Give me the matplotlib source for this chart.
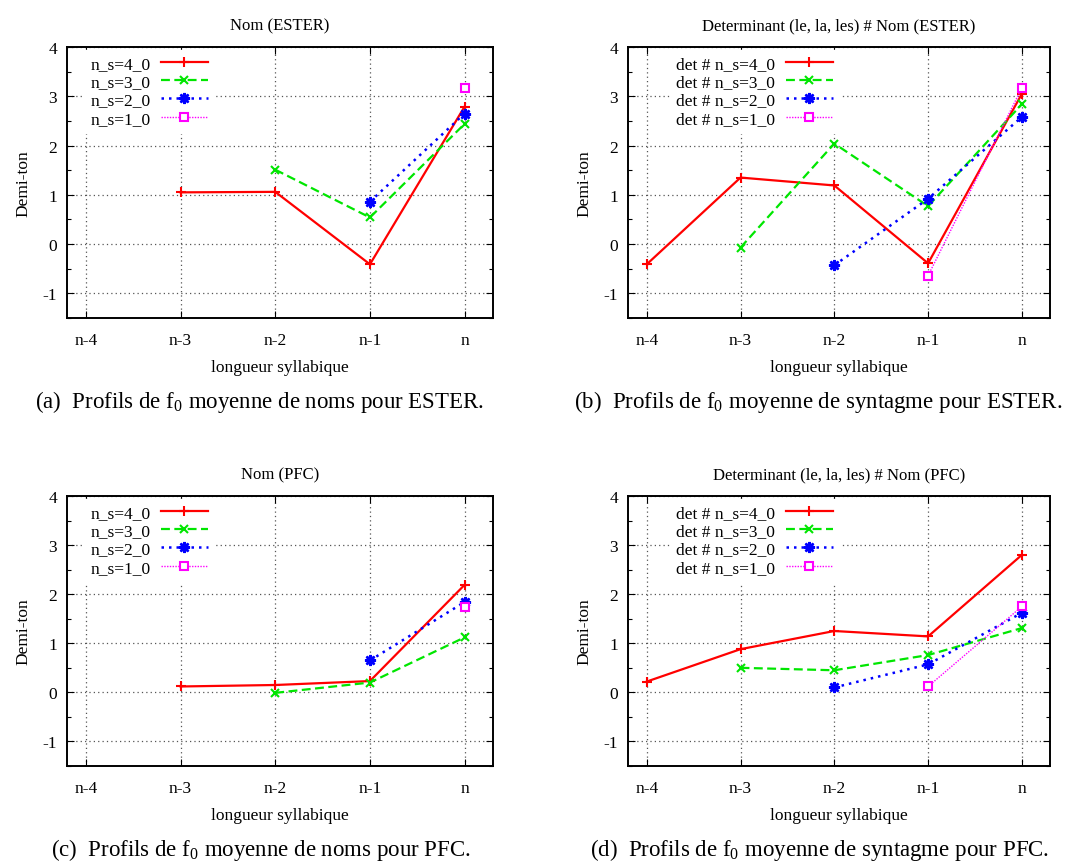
import matplotlib
matplotlib.use('Agg')
import matplotlib.pyplot as plt
from matplotlib.ticker import MultipleLocator

plt.rcParams['font.family'] = ['Liberation Serif', 'DejaVu Serif']
plt.rcParams['mathtext.fontset'] = 'custom'
plt.rcParams['mathtext.rm'] = 'Liberation Serif'
plt.rcParams['axes.unicode_minus'] = False

positions = ['n-4', 'n-3', 'n-2', 'n-1', 'n']

# values per panel, each series ends at 'n'
ester_nom_4 = [1.05, 1.06, -0.41, 2.79]
ester_nom_3 = [1.51, 0.54, 2.44]
ester_nom_2 = [0.86, 2.65]
ester_nom_1 = [3.16]

ester_det_4 = [-0.41, 1.35, 1.19, -0.39, 3.05]
ester_det_3 = [-0.07, 2.04, 0.77, 2.84]
ester_det_2 = [-0.43, 0.92, 2.58]
ester_det_1 = [-0.64, 3.17]

pfc_nom_4 = [0.12, 0.15, 0.23, 2.19]
pfc_nom_3 = [-0.01, 0.20, 1.12]
pfc_nom_2 = [0.65, 1.84]
pfc_nom_1 = [1.73]

pfc_det_4 = [0.22, 0.88, 1.25, 1.14, 2.80]
pfc_det_3 = [0.50, 0.45, 0.76, 1.31]
pfc_det_2 = [0.10, 0.57, 1.62]
pfc_det_1 = [0.12, 1.75]

series_names = ['n_s=4_0', 'n_s=3_0', 'n_s=2_0', 'n_s=1_0']

styles = [
    dict(color='#ff0000', ls='-', lw=1.6, marker='+', ms=7, mew=1.5),
    dict(color='#00e600', ls=(0, (4, 2)), lw=1.6, marker='x', ms=6, mew=1.5),
    dict(color='#0000ff', ls=(0, (1, 2)), lw=1.8, marker=(8, 2, 0), ms=8, mew=1.8),
    dict(color='#ff00ff', ls=(0, (1, 1)), lw=1.0, marker='s', ms=6, mew=1.5,
         mfc='white'),
]

panels = [
    ('Nom (ESTER)', '', [ester_nom_4, ester_nom_3, ester_nom_2, ester_nom_1],
     r'(a)  Profils de f$_0$ moyenne de noms pour ESTER.'),
    ('Determinant (le, la, les) # Nom (ESTER)', 'det # ',
     [ester_det_4, ester_det_3, ester_det_2, ester_det_1],
     r'(b)  Profils de f$_0$ moyenne de syntagme pour ESTER.'),
    ('Nom (PFC)', '', [pfc_nom_4, pfc_nom_3, pfc_nom_2, pfc_nom_1],
     r'(c)  Profils de f$_0$ moyenne de noms pour PFC.'),
    ('Determinant (le, la, les) # Nom (PFC)', 'det # ',
     [pfc_det_4, pfc_det_3, pfc_det_2, pfc_det_1],
     r'(d)  Profils de f$_0$ moyenne de syntagme pour PFC.'),
]

W, H = 1084, 862
fig = plt.figure(figsize=(W / 100, H / 100), dpi=100)

# axes boxes in pixels: left, top, right, bottom
boxes = [(67, 48, 493, 319), (628, 48, 1050, 319),
         (67, 497, 493, 767), (628, 497, 1050, 767)]
caption_pos = [(260, 402), (818, 402), (261, 850), (820, 850)]
legend_x = [0.04, 0.1, 0.04, 0.1]

fs = 12.5
for k, (title, prefix, data, caption) in enumerate(panels):
    l, t, r, b = boxes[k]
    ax = fig.add_axes([l / W, 1 - b / H, (r - l) / W, (b - t) / H])
    for name, vals, st in zip(series_names, data, styles):
        x0 = len(positions) - len(vals)
        xs = list(range(x0, len(positions)))
        ax.plot(xs, vals, label=prefix + name, zorder=3, **st)
    ax.set_xlim(-0.2, 4.3)
    ax.set_ylim(-1.5, 4)
    ax.set_xticks(range(len(positions)))
    ax.set_xticklabels(positions)
    ax.yaxis.set_major_locator(MultipleLocator(1))
    ax.yaxis.set_minor_locator(MultipleLocator(0.5))
    ax.tick_params(which='both', direction='in', top=True, right=True,
                   labelsize=fs, width=0.8)
    ax.tick_params(which='major', length=5)
    ax.tick_params(which='minor', length=3)
    ax.tick_params(axis='x', pad=10)
    ax.tick_params(axis='y', pad=7)
    ax.grid(True, which='major', color='#555555', ls=(0, (1, 2.5)), lw=0.9)
    for sp in ax.spines.values():
        sp.set_linewidth(1.4)
    ax.set_title(title, fontsize=fs - 0.5, pad=13)
    ax.set_xlabel('longueur syllabique', fontsize=fs, labelpad=8)
    ax.set_ylabel('Demi-ton', fontsize=fs, labelpad=8)
    leg = ax.legend(loc='upper left', bbox_to_anchor=(legend_x[k], 0.99),
                    markerfirst=False, fontsize=fs, frameon=True,
                    handlelength=2.7, handletextpad=0.6, labelspacing=0.12,
                    borderpad=0.35, borderaxespad=0, fancybox=False)
    leg.get_frame().set_facecolor('white')
    leg.get_frame().set_edgecolor('white')
    leg.get_frame().set_alpha(1)
    leg.set_zorder(4)
    cx, cy = caption_pos[k]
    fig.text(cx / W, 1 - cy / H, caption, fontsize=16.5, ha='center',
             va='center')

fig.savefig('out.png', dpi=100)
